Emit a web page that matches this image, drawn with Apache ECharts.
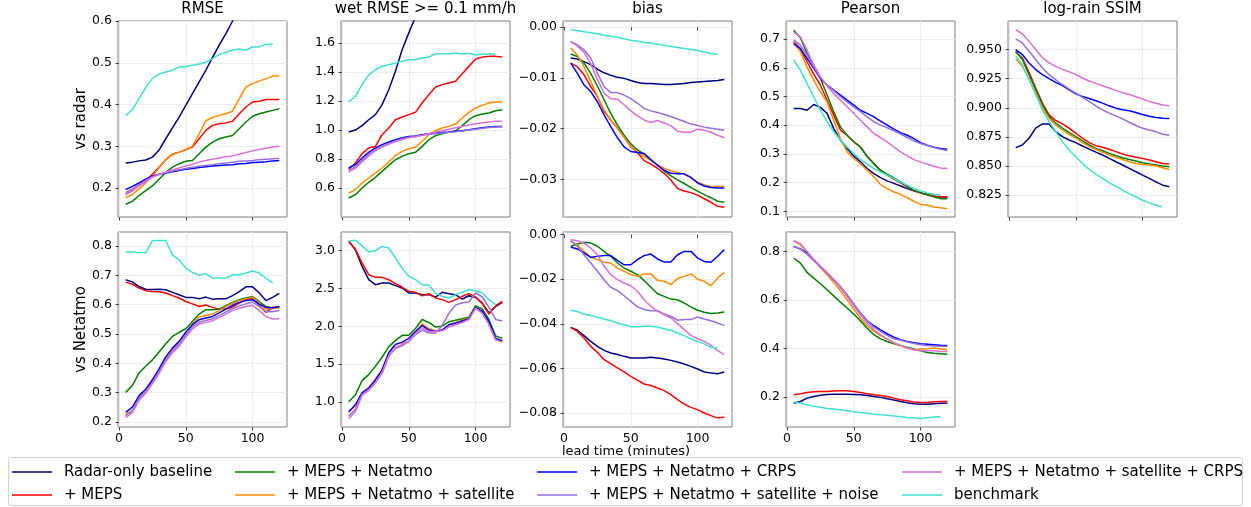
<!DOCTYPE html>
<html>
<head>
<meta charset="utf-8">
<script src="https://cdn.jsdelivr.net/npm/echarts@6/dist/echarts.min.js"></script>
<style>
  html, body { margin: 0; padding: 0; background: #fff; }
  #chart { width: 1251px; height: 507px; }
</style>
</head>
<body>
<div id="chart"></div>
<script>
// lead time in minutes (benchmark stops at 115)
const leadTimes = [5, 10, 15, 20, 25, 30, 35, 40, 45, 50, 55, 60, 65, 70, 75, 80, 85, 90, 95, 100, 105, 110, 115, 120]

const methods = [
  'Radar-only baseline',
  '+ MEPS',
  '+ MEPS + Netatmo',
  '+ MEPS + Netatmo + satellite',
  '+ MEPS + Netatmo + CRPS',
  '+ MEPS + Netatmo + satellite + noise',
  '+ MEPS + Netatmo + satellite + CRPS',
  'benchmark'
]

const columnTitles = ['RMSE', 'wet RMSE >= 0.1 mm/h', 'bias', 'Pearson', 'log-rain SSIM']
const rowNames = ['vs radar', 'vs Netatmo']

// one row per method, same order as `methods`
const rmseRadar = [
  [0.26, 0.262, 0.265, 0.267, 0.274, 0.291, 0.318, 0.344, 0.37, 0.398, 0.426, 0.454, 0.482, 0.513, 0.542, 0.57, 0.6, 0.628, 0.655, 0.683, 0.71, 0.737, 0.763, 0.79],
  [0.185, 0.194, 0.206, 0.218, 0.233, 0.25, 0.268, 0.281, 0.286, 0.292, 0.298, 0.318, 0.338, 0.35, 0.354, 0.356, 0.36, 0.378, 0.394, 0.406, 0.408, 0.412, 0.412, 0.412],
  [0.161, 0.168, 0.182, 0.194, 0.205, 0.221, 0.237, 0.25, 0.258, 0.264, 0.266, 0.282, 0.298, 0.31, 0.318, 0.322, 0.326, 0.342, 0.358, 0.372, 0.378, 0.382, 0.386, 0.39],
  [0.177, 0.184, 0.198, 0.212, 0.229, 0.248, 0.268, 0.281, 0.286, 0.293, 0.3, 0.33, 0.361, 0.369, 0.374, 0.378, 0.384, 0.414, 0.442, 0.45, 0.456, 0.462, 0.468, 0.469],
  [0.196, 0.204, 0.212, 0.221, 0.229, 0.233, 0.236, 0.239, 0.242, 0.245, 0.247, 0.249, 0.251, 0.253, 0.254, 0.255, 0.256, 0.258, 0.259, 0.261, 0.262, 0.263, 0.265, 0.266],
  [0.189, 0.198, 0.208, 0.218, 0.227, 0.233, 0.237, 0.241, 0.244, 0.247, 0.25, 0.252, 0.254, 0.256, 0.258, 0.26, 0.262, 0.264, 0.265, 0.266, 0.268, 0.269, 0.27, 0.271],
  [0.185, 0.195, 0.205, 0.215, 0.226, 0.232, 0.238, 0.243, 0.248, 0.253, 0.257, 0.262, 0.266, 0.269, 0.272, 0.275, 0.277, 0.281, 0.285, 0.289, 0.292, 0.295, 0.298, 0.3],
  [0.373, 0.388, 0.414, 0.441, 0.462, 0.473, 0.478, 0.482, 0.49, 0.491, 0.494, 0.497, 0.501, 0.51, 0.52, 0.525, 0.53, 0.533, 0.53, 0.538, 0.538, 0.544, 0.545]
]

const wetRmseRadar = [
  [0.986, 1.0, 1.03, 1.071, 1.106, 1.175, 1.278, 1.405, 1.554, 1.67, 1.78, 1.9, 2.0, 2.1, 2.2, 2.3, 2.4, 2.5, 2.6, 2.7, 2.8, 2.9, 3.0, 3.1],
  [0.731, 0.772, 0.837, 0.876, 0.887, 0.968, 1.014, 1.071, 1.09, 1.106, 1.122, 1.186, 1.244, 1.297, 1.313, 1.324, 1.336, 1.388, 1.439, 1.49, 1.503, 1.508, 1.508, 1.503],
  [0.531, 0.554, 0.6, 0.639, 0.674, 0.715, 0.756, 0.795, 0.818, 0.837, 0.846, 0.887, 0.933, 0.961, 0.975, 0.984, 0.995, 1.03, 1.071, 1.099, 1.11, 1.117, 1.133, 1.14],
  [0.565, 0.588, 0.634, 0.669, 0.703, 0.738, 0.779, 0.823, 0.853, 0.871, 0.883, 0.922, 0.968, 0.995, 1.014, 1.025, 1.041, 1.083, 1.122, 1.152, 1.17, 1.186, 1.193, 1.193],
  [0.738, 0.761, 0.807, 0.846, 0.876, 0.899, 0.917, 0.933, 0.947, 0.956, 0.958, 0.968, 0.975, 0.979, 0.984, 0.986, 0.991, 0.995, 1.002, 1.009, 1.016, 1.021, 1.025, 1.025],
  [0.722, 0.745, 0.792, 0.832, 0.865, 0.89, 0.908, 0.925, 0.94, 0.95, 0.955, 0.963, 0.97, 0.975, 0.98, 0.984, 0.988, 0.993, 1.0, 1.006, 1.012, 1.017, 1.021, 1.022],
  [0.712, 0.735, 0.78, 0.822, 0.857, 0.882, 0.902, 0.92, 0.935, 0.946, 0.953, 0.963, 0.975, 0.985, 0.995, 1.005, 1.015, 1.025, 1.035, 1.043, 1.05, 1.056, 1.06, 1.06],
  [1.193, 1.232, 1.313, 1.38, 1.416, 1.44, 1.45, 1.462, 1.474, 1.483, 1.487, 1.497, 1.503, 1.526, 1.526, 1.526, 1.531, 1.524, 1.53, 1.517, 1.522, 1.524, 1.524]
]

const biasRadar = [
  [-0.0061, -0.0063, -0.0068, -0.0074, -0.0083, -0.009, -0.0095, -0.0099, -0.0101, -0.0105, -0.0109, -0.0111, -0.0111, -0.0112, -0.0113, -0.0113, -0.0112, -0.0111, -0.0109, -0.0108, -0.0107, -0.0106, -0.0105, -0.0103],
  [-0.0071, -0.0078, -0.0094, -0.0117, -0.0137, -0.0166, -0.0183, -0.0199, -0.0216, -0.0236, -0.0247, -0.0263, -0.027, -0.0278, -0.0288, -0.0301, -0.0318, -0.0323, -0.0326, -0.0331, -0.0338, -0.0345, -0.0353, -0.0355],
  [-0.0053, -0.0058, -0.0071, -0.0091, -0.0116, -0.0143, -0.017, -0.0193, -0.0213, -0.023, -0.0242, -0.025, -0.0262, -0.0272, -0.0283, -0.0293, -0.0301, -0.0308, -0.0316, -0.0323, -0.033, -0.0336, -0.0343, -0.0345],
  [-0.0041, -0.0055, -0.0078, -0.0107, -0.0137, -0.0163, -0.0183, -0.0199, -0.0217, -0.0236, -0.0245, -0.0255, -0.0262, -0.0272, -0.0278, -0.0283, -0.0286, -0.029, -0.0297, -0.0305, -0.0311, -0.0314, -0.0314, -0.0314],
  [-0.0071, -0.0091, -0.0114, -0.0127, -0.0147, -0.0173, -0.0196, -0.0218, -0.0236, -0.0245, -0.0247, -0.0249, -0.0261, -0.0272, -0.0282, -0.0288, -0.0289, -0.0289, -0.0296, -0.0307, -0.0313, -0.0316, -0.0317, -0.0317],
  [-0.0028, -0.0035, -0.0045, -0.0061, -0.0091, -0.0117, -0.0129, -0.0129, -0.0134, -0.0141, -0.015, -0.016, -0.0165, -0.0168, -0.0172, -0.0176, -0.0181, -0.0186, -0.0191, -0.0194, -0.0197, -0.0199, -0.0201, -0.0203],
  [-0.0028, -0.0037, -0.005, -0.0072, -0.0104, -0.013, -0.0141, -0.0142, -0.0153, -0.0165, -0.0175, -0.0183, -0.0188, -0.0184, -0.0189, -0.0194, -0.0205, -0.0207, -0.0207, -0.0201, -0.0203, -0.0207, -0.0213, -0.0218],
  [-0.0005, -0.0007, -0.0009, -0.0011, -0.0013, -0.0016, -0.0018, -0.002, -0.0023, -0.0026, -0.0028, -0.003, -0.0032, -0.0034, -0.0036, -0.0038, -0.004, -0.0042, -0.0044, -0.0046, -0.0049, -0.0052, -0.0054]
]

const pearsonRadar = [
  [0.458, 0.458, 0.452, 0.472, 0.462, 0.441, 0.388, 0.348, 0.319, 0.292, 0.272, 0.249, 0.231, 0.217, 0.206, 0.197, 0.188, 0.179, 0.171, 0.164, 0.157, 0.152, 0.15, 0.149],
  [0.691, 0.667, 0.621, 0.578, 0.54, 0.487, 0.435, 0.383, 0.365, 0.342, 0.324, 0.292, 0.266, 0.241, 0.226, 0.212, 0.199, 0.185, 0.171, 0.164, 0.159, 0.153, 0.15, 0.15],
  [0.731, 0.705, 0.65, 0.609, 0.563, 0.505, 0.447, 0.394, 0.365, 0.342, 0.324, 0.29, 0.266, 0.243, 0.229, 0.216, 0.202, 0.187, 0.173, 0.164, 0.158, 0.15, 0.144, 0.144],
  [0.687, 0.656, 0.603, 0.557, 0.516, 0.481, 0.417, 0.353, 0.307, 0.284, 0.266, 0.243, 0.22, 0.193, 0.179, 0.167, 0.159, 0.147, 0.135, 0.124, 0.121, 0.115, 0.112, 0.109],
  [0.683, 0.667, 0.633, 0.598, 0.563, 0.54, 0.522, 0.505, 0.487, 0.47, 0.452, 0.441, 0.429, 0.414, 0.4, 0.386, 0.374, 0.365, 0.353, 0.339, 0.33, 0.323, 0.319, 0.316],
  [0.697, 0.679, 0.644, 0.603, 0.566, 0.54, 0.52, 0.499, 0.481, 0.464, 0.447, 0.429, 0.412, 0.4, 0.391, 0.38, 0.369, 0.357, 0.345, 0.336, 0.329, 0.322, 0.316, 0.312],
  [0.724, 0.708, 0.662, 0.609, 0.569, 0.536, 0.51, 0.487, 0.464, 0.441, 0.417, 0.394, 0.371, 0.357, 0.342, 0.324, 0.307, 0.293, 0.28, 0.272, 0.264, 0.257, 0.251, 0.249],
  [0.627, 0.592, 0.545, 0.499, 0.452, 0.412, 0.377, 0.348, 0.324, 0.301, 0.281, 0.264, 0.249, 0.237, 0.226, 0.214, 0.202, 0.191, 0.179, 0.171, 0.164, 0.159, 0.156]
]

const ssimRadar = [
  [0.8658, 0.8681, 0.8739, 0.8825, 0.8862, 0.8862, 0.8796, 0.8753, 0.8724, 0.8701, 0.8672, 0.8646, 0.862, 0.8595, 0.8566, 0.8537, 0.8509, 0.848, 0.8451, 0.8422, 0.8394, 0.8365, 0.8336, 0.8322],
  [0.9477, 0.9428, 0.9305, 0.917, 0.904, 0.894, 0.8891, 0.8862, 0.8825, 0.8782, 0.8739, 0.8701, 0.8675, 0.8661, 0.8644, 0.8624, 0.8603, 0.8589, 0.8575, 0.8566, 0.8552, 0.8537, 0.8523, 0.8517],
  [0.9486, 0.9414, 0.9284, 0.9155, 0.9026, 0.8925, 0.8868, 0.8825, 0.8787, 0.8753, 0.8716, 0.8681, 0.8652, 0.8632, 0.8609, 0.8589, 0.8572, 0.8557, 0.8543, 0.8529, 0.8517, 0.8509, 0.85, 0.8494],
  [0.942, 0.9356, 0.9247, 0.9126, 0.8997, 0.8911, 0.8853, 0.881, 0.8773, 0.8739, 0.8701, 0.8667, 0.8644, 0.8618, 0.8595, 0.8575, 0.8557, 0.8537, 0.8523, 0.8514, 0.8509, 0.85, 0.8486, 0.8471],
  [0.95, 0.9457, 0.9385, 0.9328, 0.9284, 0.925, 0.9218, 0.919, 0.9155, 0.912, 0.9098, 0.908, 0.906, 0.904, 0.9017, 0.8997, 0.8983, 0.8974, 0.896, 0.8943, 0.8928, 0.8917, 0.8911, 0.8908],
  [0.9592, 0.9557, 0.9486, 0.9414, 0.9342, 0.9284, 0.9241, 0.9198, 0.9161, 0.9126, 0.9089, 0.9055, 0.9017, 0.8983, 0.8954, 0.8931, 0.8905, 0.8876, 0.8848, 0.8825, 0.881, 0.8796, 0.8773, 0.8764],
  [0.967, 0.9635, 0.957, 0.95, 0.943, 0.9385, 0.9356, 0.933, 0.931, 0.9285, 0.9256, 0.923, 0.921, 0.919, 0.917, 0.915, 0.913, 0.9115, 0.9095, 0.9075, 0.9055, 0.904, 0.9025, 0.9017],
  [0.9448, 0.9371, 0.9241, 0.9112, 0.8983, 0.8882, 0.8796, 0.871, 0.8638, 0.858, 0.8523, 0.8471, 0.8431, 0.8394, 0.8356, 0.8328, 0.8293, 0.8264, 0.8236, 0.8207, 0.8184, 0.8164, 0.815]
]

const rmseNetatmo = [
  [0.685, 0.678, 0.662, 0.653, 0.652, 0.653, 0.651, 0.642, 0.634, 0.625, 0.625, 0.62, 0.626, 0.619, 0.62, 0.62, 0.631, 0.645, 0.661, 0.661, 0.64, 0.614, 0.625, 0.639],
  [0.677, 0.67, 0.657, 0.648, 0.645, 0.644, 0.64, 0.631, 0.623, 0.611, 0.603, 0.594, 0.599, 0.591, 0.585, 0.585, 0.592, 0.606, 0.617, 0.623, 0.597, 0.574, 0.591, 0.592],
  [0.301, 0.325, 0.367, 0.39, 0.412, 0.439, 0.467, 0.492, 0.506, 0.518, 0.543, 0.568, 0.583, 0.583, 0.585, 0.597, 0.608, 0.617, 0.623, 0.628, 0.611, 0.594, 0.589, 0.591],
  [0.225, 0.24, 0.282, 0.305, 0.338, 0.375, 0.418, 0.45, 0.473, 0.505, 0.535, 0.558, 0.563, 0.568, 0.58, 0.593, 0.605, 0.614, 0.62, 0.626, 0.605, 0.585, 0.587, 0.589],
  [0.233, 0.251, 0.29, 0.312, 0.344, 0.381, 0.422, 0.452, 0.475, 0.506, 0.532, 0.549, 0.555, 0.56, 0.572, 0.585, 0.598, 0.608, 0.614, 0.617, 0.602, 0.591, 0.589, 0.594],
  [0.222, 0.238, 0.28, 0.303, 0.335, 0.372, 0.412, 0.442, 0.465, 0.497, 0.525, 0.54, 0.546, 0.552, 0.563, 0.575, 0.587, 0.596, 0.603, 0.609, 0.594, 0.577, 0.576, 0.58],
  [0.215, 0.232, 0.274, 0.298, 0.33, 0.366, 0.406, 0.436, 0.458, 0.49, 0.518, 0.534, 0.539, 0.545, 0.556, 0.568, 0.58, 0.588, 0.594, 0.598, 0.58, 0.56, 0.551, 0.552],
  [0.78, 0.78, 0.778, 0.777, 0.818, 0.819, 0.819, 0.77, 0.753, 0.725, 0.71, 0.701, 0.706, 0.691, 0.691, 0.691, 0.702, 0.702, 0.708, 0.715, 0.708, 0.691, 0.674]
]

const wetRmseNetatmo = [
  [3.124, 3.013, 2.793, 2.616, 2.55, 2.572, 2.572, 2.537, 2.506, 2.44, 2.44, 2.418, 2.418, 2.387, 2.449, 2.431, 2.418, 2.36, 2.404, 2.382, 2.307, 2.175, 2.263, 2.316],
  [3.124, 3.022, 2.837, 2.682, 2.647, 2.647, 2.616, 2.563, 2.519, 2.462, 2.449, 2.404, 2.431, 2.374, 2.352, 2.316, 2.352, 2.396, 2.431, 2.387, 2.299, 2.162, 2.272, 2.329],
  [1.0, 1.09, 1.28, 1.36, 1.47, 1.59, 1.73, 1.81, 1.88, 1.88, 1.97, 2.09, 2.05, 1.99, 2.0, 2.06, 2.08, 2.1, 2.12, 2.27, 2.23, 2.09, 1.87, 1.84],
  [0.87, 0.95, 1.12, 1.19, 1.3, 1.43, 1.65, 1.76, 1.78, 1.8, 1.92, 2.03, 1.97, 1.94, 1.95, 2.02, 2.05, 2.08, 2.11, 2.24, 2.18, 2.04, 1.82, 1.8],
  [0.865, 0.96, 1.12, 1.18, 1.29, 1.42, 1.65, 1.76, 1.79, 1.84, 1.93, 2.01, 1.95, 1.93, 1.95, 2.02, 2.04, 2.07, 2.1, 2.25, 2.2, 2.06, 1.84, 1.81],
  [0.81, 0.9, 1.1, 1.16, 1.26, 1.38, 1.6, 1.71, 1.74, 1.8, 1.89, 1.95, 1.91, 1.91, 2.01, 2.17, 2.28, 2.31, 2.32, 2.44, 2.39, 2.25, 2.09, 2.07],
  [0.78, 0.87, 1.08, 1.15, 1.25, 1.38, 1.61, 1.72, 1.76, 1.8, 1.9, 1.98, 1.93, 1.93, 1.94, 1.99, 2.02, 2.05, 2.09, 2.24, 2.17, 2.02, 1.82, 1.79],
  [3.124, 3.137, 3.066, 2.982, 3.0, 3.057, 3.035, 2.903, 2.771, 2.66, 2.616, 2.55, 2.541, 2.44, 2.396, 2.374, 2.418, 2.449, 2.484, 2.47, 2.44, 2.352, 2.285]
]

const biasNetatmo = [
  [-0.0416, -0.0429, -0.0453, -0.0479, -0.0501, -0.0519, -0.0531, -0.0538, -0.0546, -0.0553, -0.0553, -0.0553, -0.055, -0.0553, -0.0558, -0.0564, -0.0571, -0.058, -0.0591, -0.0603, -0.0616, -0.0621, -0.0624, -0.0616],
  [-0.0416, -0.0434, -0.0464, -0.0501, -0.0528, -0.0561, -0.0579, -0.0598, -0.0616, -0.0636, -0.0653, -0.067, -0.0677, -0.0688, -0.07, -0.0718, -0.074, -0.076, -0.0775, -0.0785, -0.08, -0.0812, -0.0822, -0.0819],
  [-0.0052, -0.0042, -0.0034, -0.0037, -0.0052, -0.0075, -0.0097, -0.0127, -0.015, -0.0164, -0.0179, -0.0206, -0.0236, -0.0265, -0.0277, -0.0289, -0.0292, -0.0307, -0.0324, -0.0339, -0.0348, -0.0354, -0.0351, -0.0347],
  [-0.003, -0.0045, -0.0075, -0.01, -0.0112, -0.0124, -0.0127, -0.015, -0.0164, -0.0179, -0.0187, -0.0176, -0.0176, -0.0205, -0.0209, -0.0224, -0.0197, -0.0187, -0.0176, -0.02, -0.0209, -0.0229, -0.0194, -0.0169],
  [-0.0055, -0.0064, -0.0082, -0.0102, -0.0097, -0.0094, -0.0094, -0.0115, -0.0135, -0.0135, -0.0112, -0.0094, -0.0087, -0.0109, -0.0123, -0.0123, -0.009, -0.0075, -0.0075, -0.0105, -0.012, -0.0124, -0.0097, -0.0067],
  [-0.0027, -0.0052, -0.009, -0.0127, -0.0164, -0.0202, -0.0236, -0.0251, -0.0274, -0.0299, -0.0324, -0.0336, -0.0341, -0.0341, -0.0356, -0.0366, -0.0384, -0.0381, -0.0381, -0.0369, -0.0378, -0.0386, -0.0396, -0.0408],
  [-0.0022, -0.0027, -0.0037, -0.006, -0.009, -0.0142, -0.0179, -0.0202, -0.0217, -0.0229, -0.0254, -0.0292, -0.0321, -0.0344, -0.0359, -0.0374, -0.0399, -0.0426, -0.0452, -0.0467, -0.0479, -0.0496, -0.052, -0.0538],
  [-0.0339, -0.0345, -0.0356, -0.0363, -0.0371, -0.0378, -0.0386, -0.0396, -0.0404, -0.0413, -0.0413, -0.0411, -0.0411, -0.0414, -0.0422, -0.0429, -0.0441, -0.0453, -0.0468, -0.0479, -0.049, -0.0505, -0.0508]
]

const pearsonNetatmo = [
  [0.175, 0.182, 0.196, 0.203, 0.208, 0.211, 0.212, 0.212, 0.212, 0.211, 0.21, 0.207, 0.203, 0.199, 0.193, 0.188, 0.182, 0.177, 0.173, 0.171, 0.171, 0.173, 0.175, 0.175],
  [0.21, 0.214, 0.219, 0.222, 0.223, 0.223, 0.225, 0.226, 0.226, 0.223, 0.219, 0.214, 0.21, 0.207, 0.203, 0.196, 0.189, 0.185, 0.18, 0.178, 0.178, 0.181, 0.182, 0.182],
  [0.773, 0.752, 0.714, 0.69, 0.667, 0.642, 0.617, 0.591, 0.567, 0.542, 0.514, 0.484, 0.457, 0.44, 0.429, 0.42, 0.412, 0.405, 0.398, 0.391, 0.384, 0.381, 0.379, 0.377],
  [0.844, 0.827, 0.797, 0.768, 0.734, 0.704, 0.672, 0.638, 0.601, 0.563, 0.525, 0.494, 0.471, 0.453, 0.439, 0.423, 0.412, 0.402, 0.395, 0.398, 0.399, 0.402, 0.398, 0.395],
  [0.821, 0.81, 0.793, 0.765, 0.738, 0.712, 0.683, 0.652, 0.617, 0.58, 0.546, 0.515, 0.494, 0.477, 0.461, 0.447, 0.436, 0.429, 0.424, 0.42, 0.418, 0.416, 0.414, 0.413],
  [0.821, 0.81, 0.789, 0.762, 0.735, 0.711, 0.683, 0.656, 0.622, 0.584, 0.546, 0.515, 0.488, 0.471, 0.454, 0.44, 0.434, 0.427, 0.421, 0.416, 0.413, 0.411, 0.41, 0.409],
  [0.845, 0.832, 0.8, 0.768, 0.738, 0.714, 0.683, 0.652, 0.615, 0.576, 0.539, 0.505, 0.477, 0.457, 0.439, 0.425, 0.413, 0.402, 0.395, 0.391, 0.391, 0.391, 0.388, 0.388],
  [0.18, 0.175, 0.169, 0.162, 0.158, 0.153, 0.151, 0.148, 0.144, 0.14, 0.137, 0.134, 0.13, 0.127, 0.125, 0.122, 0.119, 0.116, 0.115, 0.112, 0.115, 0.118, 0.12]
]

// tick labels
const xTicks = [0, 50, 100]
const rmseRadarTicks = [0.2, 0.3, 0.4, 0.5, 0.6]
const wetRmseRadarTicks = [0.6, 0.8, 1.0, 1.2, 1.4, 1.6]
const biasRadarTicks = [0, -0.01, -0.02, -0.03]
const pearsonRadarTicks = [0.1, 0.2, 0.3, 0.4, 0.5, 0.6, 0.7]
const ssimRadarTicks = [0.825, 0.85, 0.875, 0.9, 0.925, 0.95]
const rmseNetatmoTicks = [0.2, 0.3, 0.4, 0.5, 0.6, 0.7, 0.8]
const wetRmseNetatmoTicks = [1.0, 1.5, 2.0, 2.5, 3.0]
const biasNetatmoTicks = [0, -0.02, -0.04, -0.06, -0.08]
const pearsonNetatmoTicks = [0.2, 0.4, 0.6, 0.8]

const colors = ['#000080', '#ff0000', '#008000', '#ff8c00', '#0000ff', '#9370db', '#da70d6', '#40e0d0']

const panels = [
  { row: 0, col: 0, values: rmseRadar, ticks: rmseRadarTicks, dec: 1, min: 0.1306, max: 0.6 },
  { row: 0, col: 1, values: wetRmseRadar, ticks: wetRmseRadarTicks, dec: 1, min: 0.40, max: 1.752 },
  { row: 0, col: 2, values: biasRadar, ticks: biasRadarTicks, dec: 2, min: -0.0374, max: 0.0012 },
  { row: 0, col: 3, values: pearsonRadar, ticks: pearsonRadarTicks, dec: 1, min: 0.080, max: 0.763 },
  { row: 0, col: 4, values: ssimRadar, ticks: ssimRadarTicks, dec: 3, min: 0.8063, max: 0.9745 },
  { row: 1, col: 0, values: rmseNetatmo, ticks: rmseNetatmoTicks, dec: 1, min: 0.183, max: 0.848 },
  { row: 1, col: 1, values: wetRmseNetatmo, ticks: wetRmseNetatmoTicks, dec: 1, min: 0.667, max: 3.247 },
  { row: 1, col: 2, values: biasNetatmo, ticks: biasNetatmoTicks, dec: 2, min: -0.0863, max: 0.0012 },
  { row: 1, col: 3, values: pearsonNetatmo, ticks: pearsonNetatmoTicks, dec: 1, min: 0.077, max: 0.880 }
]

const FONT = 'DejaVu Sans'
const colLeft = [118, 341, 563, 786, 1008]
const colWidth = 169
const rowTop = [21, 232]
const rowHeight = [196, 195]

const fmt = dec => v => (+v).toFixed(dec).replace('-', '\u2212')

const grids = []
const xAxes = []
const yAxes = []
const series = []

panels.forEach((p, k) => {
  grids.push({
    left: colLeft[p.col], top: rowTop[p.row], width: colWidth, height: rowHeight[p.row],
    show: true, borderColor: '#7f7f7f', borderWidth: 1, backgroundColor: 'transparent'
  })
  xAxes.push({
    type: 'value', gridIndex: k, min: -0.75, max: 125.75,
    axisLine: { show: false },
    axisTick: { show: true, length: 3.5, customValues: xTicks, lineStyle: { color: '#444', width: 1 } },
    axisLabel: {
      show: p.row === 1, customValues: xTicks, margin: 5,
      fontSize: 12.5, fontFamily: FONT, color: '#000'
    },
    splitLine: { show: true, customValues: xTicks, lineStyle: { color: '#ececec', width: 1 } }
  })
  yAxes.push({
    type: 'value', gridIndex: k, min: p.min, max: p.max,
    name: p.col === 0 ? rowNames[p.row] : '',
    nameLocation: 'middle', nameGap: 27,
    nameTextStyle: { fontSize: 15, fontFamily: FONT, color: '#000' },
    axisLine: { show: false },
    axisTick: { show: true, length: 3.5, customValues: p.ticks, lineStyle: { color: '#444', width: 1 } },
    axisLabel: {
      customValues: p.ticks, margin: 6, formatter: fmt(p.dec),
      fontSize: 12.5, fontFamily: FONT, color: '#000'
    },
    splitLine: { show: true, customValues: p.ticks, lineStyle: { color: '#ececec', width: 1 } }
  })
  p.values.forEach((vals, m) => {
    series.push({
      name: methods[m],
      type: 'line',
      xAxisIndex: k,
      yAxisIndex: k,
      data: vals.map((v, i) => [leadTimes[i], v]),
      symbol: 'none',
      clip: true,
      animation: false,
      lineStyle: { color: colors[m], width: 1.5 },
      itemStyle: { color: colors[m] },
      z: 2 + m
    })
  })
})

// matplotlib-style legend: 4 columns x 2 rows, one legend per entry
const legendLeft = [12, 235, 537, 902]
const legendTop = [463, 486]
const legends = methods.map((name, i) => ({
  left: legendLeft[Math.floor(i / 2)],
  top: legendTop[i % 2],
  padding: 0,
  data: [name],
  icon: 'rect',
  itemWidth: 40,
  itemHeight: 1.6,
  selectedMode: false,
  textStyle: { fontSize: 15, fontFamily: FONT, color: '#000', lineHeight: 18, padding: [0, 0, 0, 7] }
}))

const titles = columnTitles.map((t, c) => ({
  text: t,
  left: colLeft[c] + colWidth / 2,
  top: 2,
  padding: 0,
  textAlign: 'center',
  textStyle: { fontSize: 15, fontWeight: 'normal', fontFamily: FONT, color: '#000' }
}))

const chart = echarts.init(document.getElementById('chart'), null, { renderer: 'canvas' })
chart.setOption({
  animation: false,
  backgroundColor: '#fff',
  title: titles,
  legend: legends,
  grid: grids,
  xAxis: xAxes,
  yAxis: yAxes,
  series: series,
  graphic: [
    {
      type: 'rect', z: 0,
      shape: { x: 8.5, y: 457.5, width: 1234, height: 48, r: 3 },
      style: { fill: '#fff', stroke: '#d0d0d0', lineWidth: 1 }
    },
    {
      type: 'text', z: 1, x: 626, y: 452,
      style: { text: 'lead time (minutes)', fontSize: 13, fontFamily: FONT, fill: '#000', align: 'center', verticalAlign: 'middle' }
    }
  ]
})

window.addEventListener('resize', () => chart.resize())
</script>
</body>
</html>
